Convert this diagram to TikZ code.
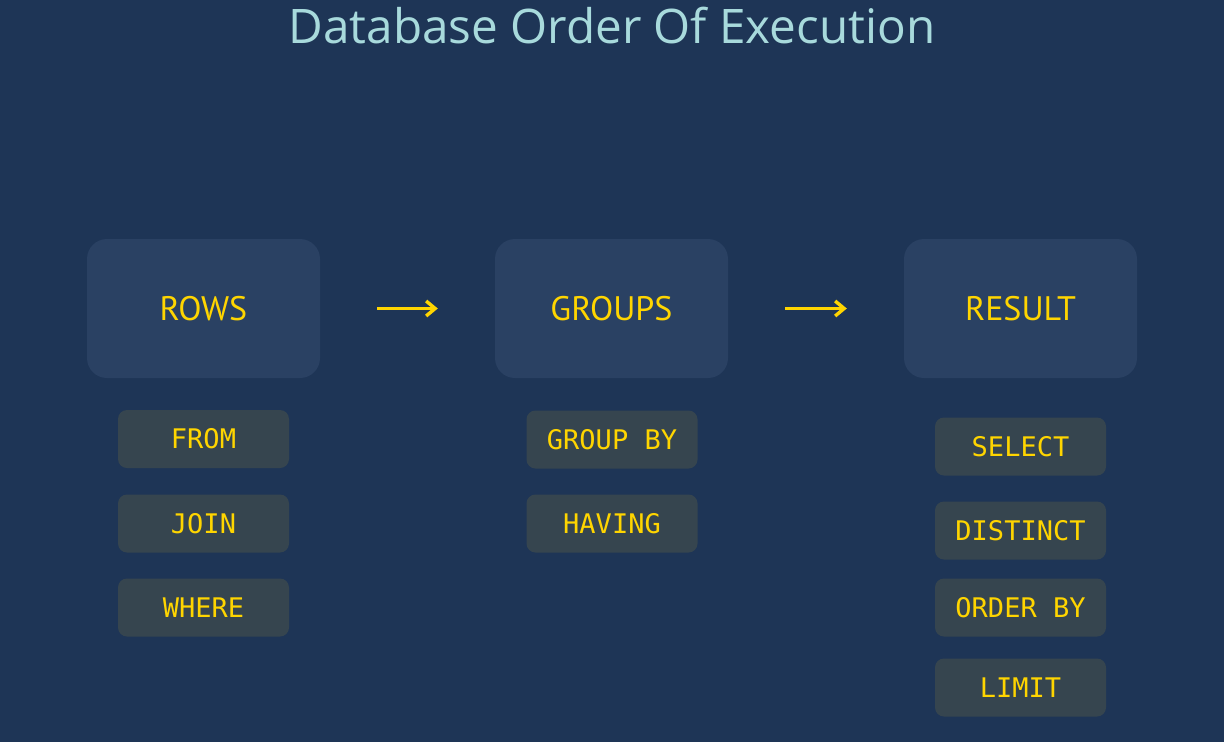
\documentclass[tikz,border=0pt]{standalone}
\usepackage{fontspec}
\usepackage{tikz}
\usetikzlibrary{arrows.meta}
\newfontfamily\titlefont{Open Sans}
\newfontfamily\stagefont{PT Sans}
\newfontfamily\clausefont{DejaVu Sans Mono}
\definecolor{bgblue}{HTML}{1E3556}
\definecolor{stagefill}{HTML}{2A4163}
\definecolor{clausefill}{HTML}{36454F}
\definecolor{sqlyellow}{HTML}{FFD500}
\definecolor{titlecyan}{HTML}{A8DADC}

\begin{document}
\begin{tikzpicture}[x=1pt,y=-1pt]
\tikzstyle{every node}+=[inner sep=0pt]
\tikzstyle{stage}=[fill=stagefill, rounded corners=20pt, minimum width=233pt, minimum height=139pt, text=sqlyellow, font=\stagefont\fontsize{34}{40}\selectfont, text height=24pt, text depth=0pt]
\tikzstyle{clause}=[fill=clausefill, rounded corners=9pt, minimum width=171pt, minimum height=58pt, text=sqlyellow, font=\clausefont\fontsize{27}{30}\selectfont, text height=19.7pt, text depth=0pt]
\tikzstyle{flow}=[draw=sqlyellow, line width=3pt, -{Straight Barb[length=9pt,width=15pt,line width=3.4pt]}, shorten <=57pt, shorten >=57pt]
\fill [bgblue] (0,0) rectangle (1224,742);
\useasboundingbox (0,0) rectangle (1224,742);
\node [anchor=base, text=titlecyan, font=\titlefont\fontsize{47.6}{54}\selectfont] (title) at (612,43) {Database Order Of Execution};
% stages
\node [stage] (rows) at (203.5,308.5) {ROWS};
\node [stage] (groups) at (611.5,308.5) {GROUPS};
\node [stage] (result) at (1020.5,308.5) {RESULT};
\draw [flow] (rows.east) -- (groups.west);
\draw [flow] (groups.east) -- (result.west);
% clauses under ROWS
\node [clause] (from) at (203.5,439) {FROM};
\node [clause] (join) at (203.5,523.5) {JOIN};
\node [clause] (where) at (203.5,607.5) {WHERE};
% clauses under GROUPS
\node [clause] (groupby) at (612,439.5) {GROUP BY};
\node [clause] (having) at (612,523.5) {HAVING};
% clauses under RESULT
\node [clause] (select) at (1020.5,446.5) {SELECT};
\node [clause] (distinct) at (1020.5,530.5) {DISTINCT};
\node [clause] (orderby) at (1020.5,607.5) {ORDER BY};
\node [clause] (limit) at (1020.5,687.5) {LIMIT};
\end{tikzpicture}
\end{document}
